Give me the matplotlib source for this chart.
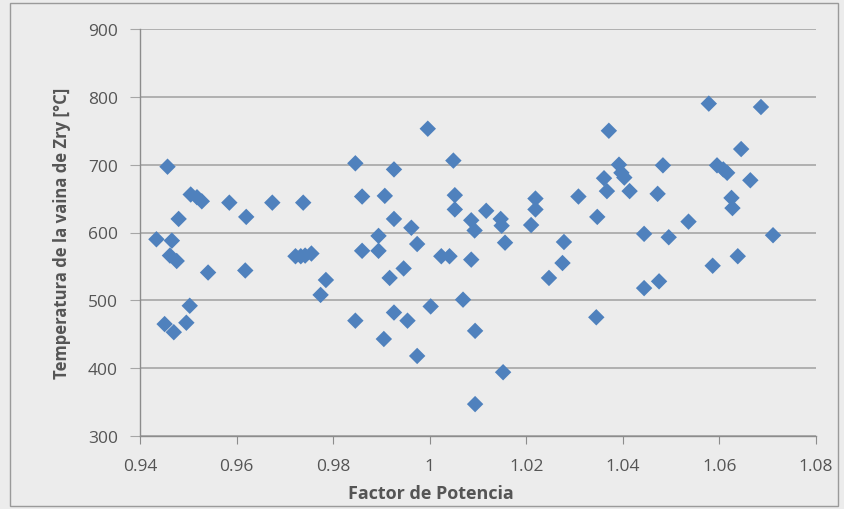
import matplotlib
matplotlib.use("Agg")
import matplotlib.pyplot as plt
from matplotlib.patches import Rectangle

# Factor de potencia vs temperatura de vaina
factor = [
    0.9434, 0.9457, 0.9451, 0.9470, 0.9466, 0.9462, 0.9476, 0.9480, 0.9496, 0.9503,
    0.9505, 0.9518, 0.9528, 0.9541, 0.9585, 0.9620, 0.9618, 0.9674, 0.9722, 0.9733,
    0.9742, 0.9755, 0.9738, 0.9774, 0.9785, 0.9846, 0.9846, 0.9860, 0.9860, 0.9894,
    0.9894, 0.9907, 0.9905, 0.9917, 0.9926, 0.9926, 0.9926, 0.9946, 0.9954, 0.9962,
    0.9974, 0.9974, 0.9996, 1.0002, 1.0024, 1.0041, 1.0049, 1.0052, 1.0052, 1.0069,
    1.0086, 1.0086, 1.0093, 1.0094, 1.0094, 1.0117, 1.0147, 1.0149, 1.0156, 1.0152,
    1.0210, 1.0219, 1.0219, 1.0247, 1.0275, 1.0278, 1.0308, 1.0345, 1.0347, 1.0361,
    1.0367, 1.0371, 1.0392, 1.0397, 1.0403, 1.0414, 1.0444, 1.0444, 1.0472, 1.0475,
    1.0483, 1.0495, 1.0536, 1.0578, 1.0586, 1.0595, 1.0608, 1.0616, 1.0625, 1.0627,
    1.0638, 1.0645, 1.0664, 1.0686, 1.0711,
]
temperatura = [
    590, 697, 465, 453, 588, 566, 558, 620, 467, 492,
    656, 652, 646, 541, 644, 623, 544, 644, 565, 565,
    566, 569, 644, 508, 530, 702, 470, 653, 573, 595,
    573, 654, 443, 533, 693, 620, 482, 547, 470, 607,
    583, 418, 753, 491, 565, 565, 706, 655, 634, 501,
    618, 560, 603, 455, 347, 632, 620, 610, 585, 394,
    611, 650, 634, 533, 555, 586, 653, 475, 623, 680,
    661, 750, 700, 688, 681, 661, 598, 518, 657, 528,
    699, 593, 616, 790, 551, 699, 693, 688, 651, 636,
    565, 723, 677, 785, 596,
]

xticks = [0.94, 0.96, 0.98, 1.00, 1.02, 1.04, 1.06, 1.08]
xtick_labels = ["0.94", "0.96", "0.98", "1", "1.02", "1.04", "1.06", "1.08"]
yticks = [300, 400, 500, 600, 700, 800, 900]

bg = "#ececec"
txt = "#555555"
grid = "#a6a6a6"

plt.rcParams["font.family"] = ["Open Sans", "DejaVu Sans"]

fig = plt.figure(figsize=(8.44, 5.10), dpi=100, facecolor=bg)
ax = fig.add_axes([140 / 844, 1 - 437 / 510, 676 / 844, 407 / 510])
ax.set_facecolor(bg)

# marco del área del gráfico
fig.patches.append(Rectangle((10 / 844, 3 / 510), 828 / 844, 503 / 510,
                             transform=fig.transFigure, fill=False,
                             edgecolor="#9a9a9a", linewidth=1.0))

ax.scatter(factor, temperatura, marker="D", s=70, color="#4f81bd",
           edgecolors="none", zorder=3)

ax.set_xlim(0.94, 1.08)
ax.set_ylim(300, 900)
ax.set_xticks(xticks)
ax.set_xticklabels(xtick_labels)
ax.set_yticks(yticks)

ax.yaxis.grid(True, color=grid, linewidth=1.2)
ax.set_axisbelow(True)
for side in ("top", "right"):
    ax.spines[side].set_visible(False)
for side in ("left", "bottom"):
    ax.spines[side].set_color("#8c8c8c")
    ax.spines[side].set_linewidth(1.0)

ax.tick_params(axis="x", direction="out", length=6, color="#8c8c8c",
               labelsize=12.5, labelcolor=txt, pad=10)
ax.tick_params(axis="y", direction="out", length=7, color=grid,
               labelsize=12.5, labelcolor=txt, pad=9)

ax.set_xlabel("Factor de Potencia", fontsize=13, fontweight="bold",
              color=txt, va="center")
ax.xaxis.set_label_coords((431 - 140) / 676, -57 / 407)
ax.set_ylabel("Temperatura de la vaina de Zry [°C]", fontsize=12,
              fontweight="bold", color=txt, va="center")
ax.yaxis.set_label_coords(-78 / 676, 0.5)

fig.savefig("out.png", dpi=100, facecolor=bg)
